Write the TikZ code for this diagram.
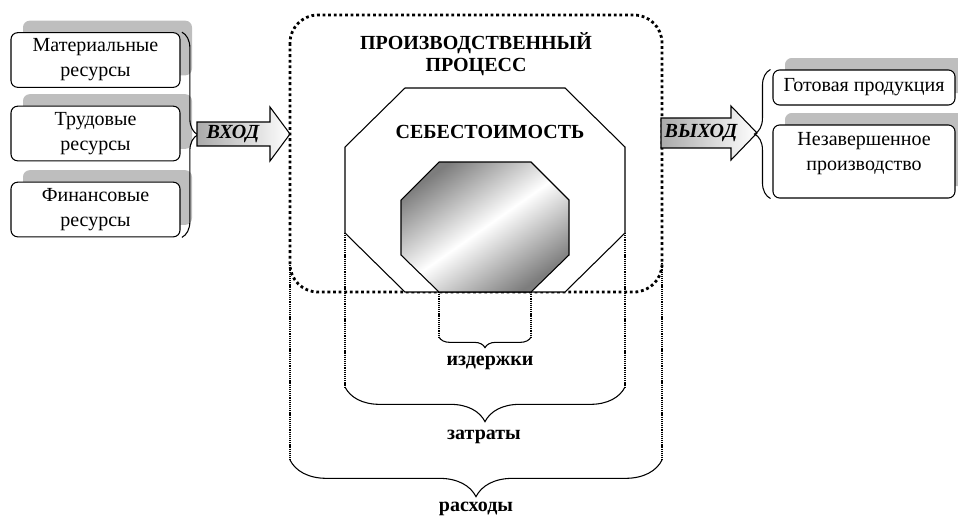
\documentclass[tikz,border=0pt]{standalone}
\usepackage{fontspec}
\setmainfont{Liberation Serif}
\usetikzlibrary{decorations.pathreplacing, shadows}
\definecolor{shadowgray}{RGB}{190, 190, 190}
\definecolor{arrowgray}{RGB}{170, 170, 170}
\definecolor{octgray}{RGB}{125, 125, 125}

\tikzset{
  resbox/.style={draw, line width=0.8, rounded corners=5, fill=white, align=center,
    minimum width=126.75pt, inner sep=1pt,
    drop shadow={shadow xshift=9pt, shadow yshift=9pt, fill=shadowgray, opacity=1}},
  procline/.style={line width=2.1, dash pattern=on 2.1pt off 2.1pt},
  armline/.style={line width=0.8, dash pattern=on 0.9pt off 0.7pt},
  bracedec/.style={decorate, decoration={brace, amplitude=#1}, line width=0.8},
  boldlbl/.style={font=\rmfamily\fontsize{15}{16.5}\selectfont\bfseries, align=center},
  arrowlbl/.style={font=\rmfamily\fontsize{15}{18}\selectfont\bfseries\itshape},
}

\begin{document}
\begin{tikzpicture}[x=0.75pt, y=-0.75pt, font=\rmfamily\fontsize{15}{18.75}\selectfont]
  \clip (0, 0) rectangle (958, 519);

  % resources
  \node[resbox, minimum height=41pt] (mat) at (95.5, 60) {Материальные\\ресурсы};
  \node[resbox, minimum height=41pt] (trud) at (95.5, 133.5) {Трудовые\\ресурсы};
  \node[resbox, minimum height=41pt] (fin) at (95.5, 209.5) {Финансовые\\ресурсы};
  \draw[bracedec=12pt] ([xshift=1pt]mat.north east) -- ([xshift=1pt]fin.south east);

  \shade[draw, line width=0.8, left color=arrowgray, right color=white]
    (197, 122) -- (270, 122) -- (270, 107) -- (290, 134) -- (270, 161) -- (270, 146) -- (197, 146) -- cycle;
  \node[arrowlbl] (vhod) at (233, 134) {ВХОД};

  % process
  \draw[procline, rounded corners=21pt] (290, 15) rectangle (662, 292);
  \node[boldlbl] (proc) at (476, 54) {ПРОИЗВОДСТВЕННЫЙ\\ПРОЦЕСС};

  \coordinate (ol) at (345, 233);
  \coordinate (or) at (625, 233);
  \coordinate (il) at (439, 292);
  \coordinate (ir) at (531, 292);
  \coordinate (pl) at (290, 263);
  \coordinate (pr) at (662, 263);

  \filldraw[fill=white, line width=0.8]
    (405, 88) -- (565, 88) -- (625, 147) -- (or) -- (565, 292) -- (405, 292) -- (ol) -- (345, 147) -- cycle;
  \node[boldlbl] (sebest) at (490, 132) {СЕБЕСТОИМОСТЬ};

  \shade[draw, line width=0.8, top color=octgray, bottom color=octgray, middle color=white, shading angle=35]
    (439, 162) -- (531, 162) -- (569, 200) -- (569, 255) -- (ir) -- (il) -- (401, 255) -- (401, 200) -- cycle;

  % output
  \shade[draw, line width=0.8, left color=arrowgray, right color=white]
    (661, 118) -- (731, 118) -- (731, 106) -- (757, 133) -- (731, 160) -- (731, 148) -- (661, 148) -- cycle;
  \node[arrowlbl] (vyhod) at (701, 133) {ВЫХОД};

  \node[resbox, minimum width=136.5pt, minimum height=26.25pt] (got) at (864, 87.5) {Готовая продукция};
  \node[resbox, minimum width=136.5pt, minimum height=54.75pt] (nez) at (864, 161.5) {};
  \node[align=center] (neztext) at (864, 154) {Незавершенное\\производство};
  \draw[bracedec=12pt] ([xshift=-1.5pt]nez.south west) -- ([xshift=-1.5pt]got.north west);

  % braces below
  \coordinate (ilb) at (439, 337);
  \coordinate (irb) at (531, 337);
  \coordinate (olb) at (345, 387);
  \coordinate (orb) at (625, 387);
  \coordinate (plb) at (290, 460);
  \coordinate (prb) at (662, 460);

  \draw[armline] (il) -- (ilb);
  \draw[armline] (ir) -- (irb);
  \draw[armline] (ol) -- (olb);
  \draw[armline] (or) -- (orb);
  \draw[armline] (pl) -- (plb);
  \draw[armline] (pr) -- (prb);

  \draw[bracedec=8pt] (irb) -- (ilb);
  \node[boldlbl] (izd) at (490, 363) {издержки};
  \draw[bracedec=26pt] (orb) -- (olb);
  \node[boldlbl] (zatr) at (484, 437) {затраты};
  \draw[bracedec=27.5pt] (prb) -- (plb);
  \node[boldlbl] (rash) at (476, 509) {расходы};
\end{tikzpicture}
\end{document}
